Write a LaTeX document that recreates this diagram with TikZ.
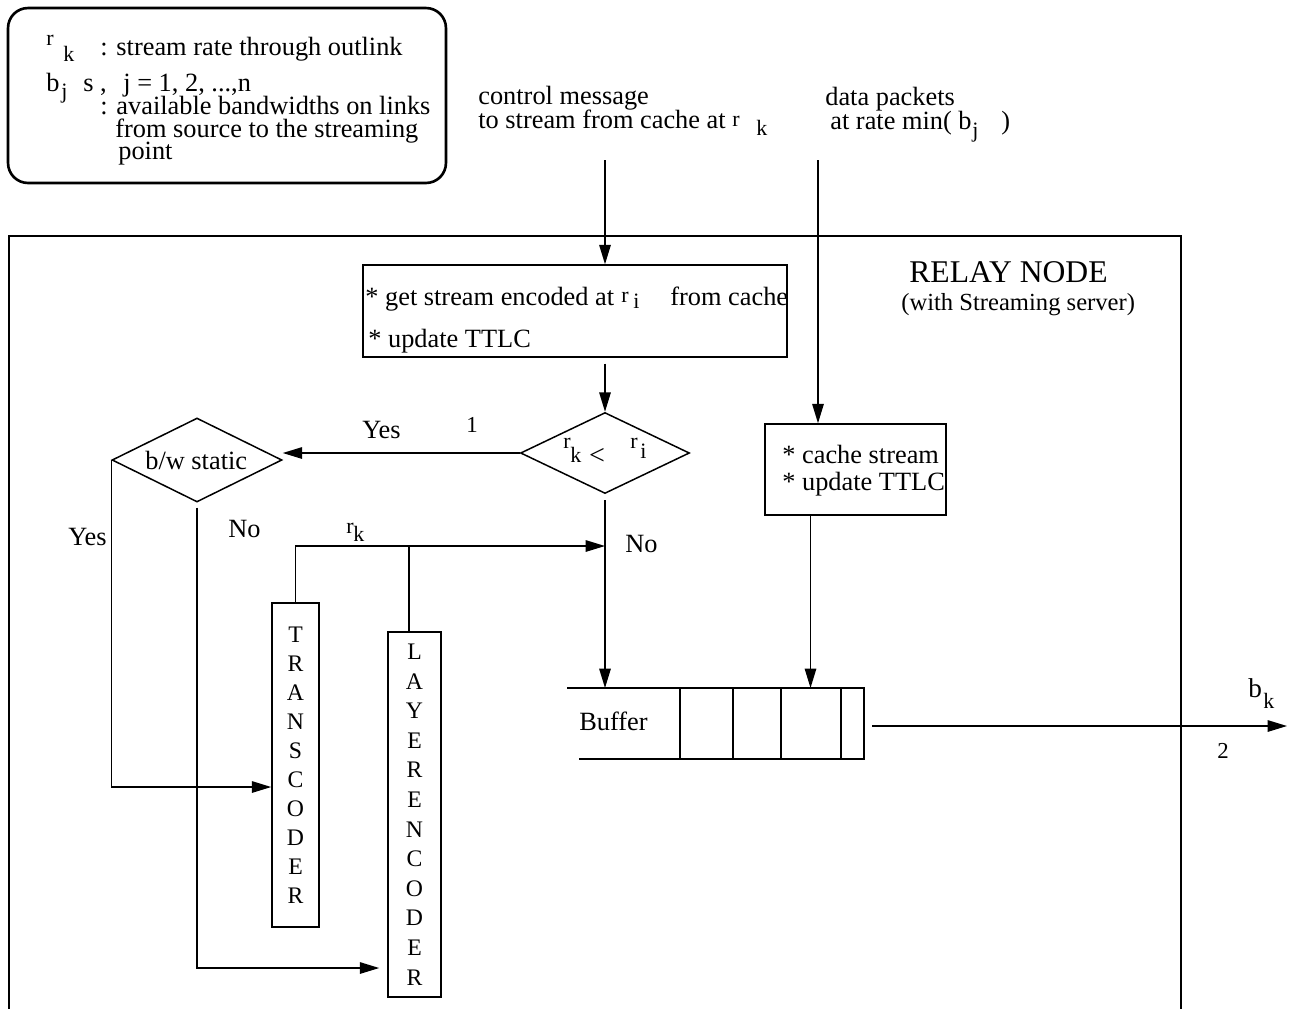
\documentclass[tikz,border=0pt]{standalone}
\usepackage{fontspec}
\setmainfont{Liberation Serif}
\usetikzlibrary{arrows.meta,shapes.geometric}
\tikzset{
  txt/.style={inner sep=0pt, anchor=base west, font=\fontsize{15}{18}\selectfont},
  sm/.style={inner sep=0pt, anchor=base west, font=\fontsize{12.5}{15}\selectfont},
  ln/.style={line width=0.85pt},
  arr/.style={ln, -{Triangle[length=11pt,width=6.5pt]}},
  boxst/.style={draw, ln, inner sep=0pt},
  dia/.style={draw, ln, diamond, inner sep=0pt},
  vtext/.style={boxst, align=center}
}
\begin{document}
\begin{tikzpicture}[x=0.02cm,y=-0.02cm]
\useasboundingbox (0,0) rectangle (1291,1008);
\clip (0,0) rectangle (1291,1008);

% legend
\node[draw, line width=1.5pt, rounded corners=0.4cm, minimum width=8.76cm, minimum height=3.5cm] (legend) at (227,95.5) {};
\node[sm] (l1r) at (46,45) {r};
\node[sm] (l1k) at (63,61) {k};
\node[txt] (l1t) at (100,55) {: stream rate through outlink};
\node[txt] (l2b) at (46,91) {b};
\node[sm] (l2j) at (61,98) {j};
\node[txt] (l2s) at (83,91) {s ,};
\node[txt] (l2t) at (123,91) {j = 1, 2, ...,n};
\node[txt] (l3) at (100,114) {: available bandwidths on links};
\node[txt] (l4) at (115,137) {from source to the streaming};
\node[txt] (l5) at (118,159) {point};

% top labels
\node[txt] (c1) at (478,104) {control message};
\node[txt] (c2) at (478,128) {to stream from cache at};
\node[sm] (c2r) at (732,126) {r};
\node[sm] (c2k) at (756,135) {k};
\node[txt] (d1t) at (825,105) {data packets};
\node[txt] (d2t) at (830,129) {at rate min(};
\node[txt] (d2b) at (958,129) {b};
\node[sm] (d2j) at (972,137) {j};
\node[txt] (d2p) at (1001,129) {)};

% relay node frame
\draw[line width=1.3pt] (9,1040) -- (9,236) -- (1181,236) -- (1181,1040);
\node[inner sep=0pt, anchor=base west, font=\fontsize{18}{21}\selectfont] (relay) at (909,282) {RELAY NODE};
\node[inner sep=0pt, anchor=base west, font=\fontsize{14}{17}\selectfont] (relay2) at (901,310) {(with Streaming server)};

% process box
\node[boxst, minimum width=8.48cm, minimum height=1.84cm] (proc) at (575,311) {};
\node[txt] (p1) at (365,305) {* get stream encoded at};
\node[sm] (p1r) at (621,302) {r};
\node[sm] (p1i) at (633,308) {i};
\node[txt] (p1b) at (670,305) {from cache};
\node[txt] (p2) at (368,347) {* update TTLC};

% decision rk < ri
\node[dia, minimum width=3.38cm, minimum height=1.62cm] (d1) at (605,453) {};
\node[sm] (d1r) at (563,448) {r};
\node[sm] (d1k) at (570,462) {k};
\node[inner sep=0pt, font=\fontsize{16}{18}\selectfont] (d1lt) at (597,456) {<};
\node[sm] (d1r2) at (630,448) {r};
\node[sm] (d1i) at (640,458) {i};

% b/w static
\node[dia, minimum width=3.4cm, minimum height=1.68cm] (bw) at (197,460) {};
\node[txt] (bwt) at (145,469) {b/w static};

% cache box
\node[boxst, minimum width=3.62cm, minimum height=1.82cm] (cache) at (855.5,469.5) {};
\node[txt] (cb1) at (782,463) {* cache stream};
\node[txt] (cb2) at (782,490) {* update TTLC};

% transcoder and layer encoder
\node[vtext, minimum width=0.94cm, minimum height=6.48cm, font=\fontsize{13.5}{16.5}\selectfont] (trans) at (295.5,765) {T\\R\\A\\N\\S\\C\\O\\D\\E\\R};
\node[vtext, minimum width=1.06cm, minimum height=7.3cm, font=\fontsize{13.5}{16.85}\selectfont] (layer) at (414.5,814.5) {L\\A\\Y\\E\\R\\E\\N\\C\\O\\D\\E\\R};

% buffer
\coordinate (btl) at (567,688);
\coordinate (bbl) at (579,759);
\coordinate (btr) at (864,688);
\coordinate (bbr) at (864,759);
\draw[ln] (btl) -- (btr) -- (bbr) -- (bbl);
\foreach \xx in {680,733,781,841} \draw[ln] (\xx,688) -- (\xx,759);
\node[txt] (buft) at (579,730) {Buffer};

% labels
\node[txt] (yes1) at (362,438) {Yes};
\node[inner sep=0pt, anchor=base west, font=\fontsize{13}{15}\selectfont] (one) at (466,432) {1};
\node[txt] (yes2) at (68,545) {Yes};
\node[txt] (no1) at (228,537) {No};
\node[sm] (rkr) at (346,533) {r};
\node[sm] (rkk) at (353,541) {k};
\node[txt] (no2) at (625,552) {No};
\node[inner sep=0pt, anchor=base west, font=\fontsize{15.5}{18}\selectfont] (bkb) at (1248,697) {b};
\node[sm] (bkk) at (1263,708) {k};
\node[inner sep=0pt, anchor=base west, font=\fontsize{13}{15}\selectfont] (two) at (1217,758) {2};

% connectors
\coordinate (ctop) at (605,160);
\coordinate (dtop) at (818,160);
\draw[arr] (ctop) -- (ctop |- proc.north);
\draw[arr] (dtop) -- (dtop |- cache.north);
\draw[arr] ([yshift=-0.12cm]proc.south -| d1.north) -- (d1.north);
\draw[arr] (d1.west) -- (d1.west -| bw.east);
\coordinate (yesturn) at (112,787);
\draw[arr] (bw.west) -- (bw.west |- yesturn) -- (yesturn -| trans.west);
\coordinate (noturn) at (197,968);
\draw[arr] ([yshift=-0.1cm]bw.south) -- (bw.south |- noturn) -- ([xshift=-0.16cm]noturn -| layer.west);
\coordinate (mid) at (605,546);
\draw[arr] (trans.north) |- (mid);
\draw[ln] ([xshift=-0.11cm]layer.north) -- ([xshift=-0.11cm]layer.north |- mid);
\draw[arr] ([yshift=-0.12cm]d1.south) -- (d1.south |- btl);
\draw[arr] ([xshift=-0.9cm]cache.south) -- ([xshift=-0.9cm]cache.south |- btl);
\coordinate (bufout) at (872,726);
\coordinate (outend) at (1287,726);
\draw[arr] (bufout) -- (outend);
\end{tikzpicture}
\end{document}
